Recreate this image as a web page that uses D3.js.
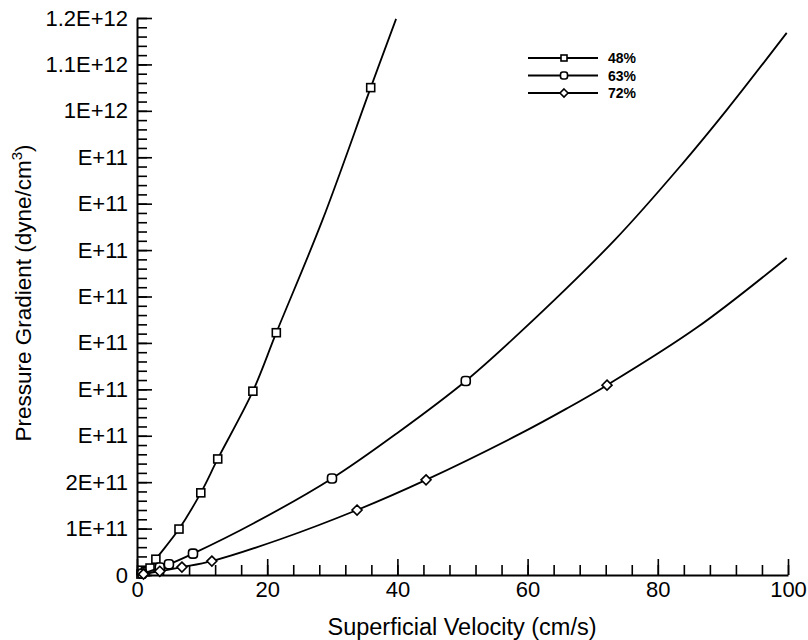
<!DOCTYPE html>
<html>
<head>
<meta charset="utf-8">
<script src="https://cdn.jsdelivr.net/npm/d3@7"></script>
<style>
  body { margin: 0; background: #fff; }
  text { font-family: "Liberation Sans", Arial, sans-serif; fill: #000; }
</style>
</head>
<body>
<div class="canvas"></div>
<script>
// velocity (cm/s) and pressure gradient (dyne/cm3)
var seriesNames = ['48%', '63%', '72%'];

var vel48 = [0.6, 1.3, 2.0, 2.9, 6.45, 9.8, 12.4, 17.8, 21.4, 35.9];
var dp48  = [0.02e11, 0.07e11, 0.15e11, 0.34e11, 0.99e11, 1.77e11, 2.50e11, 3.96e11, 5.22e11, 10.5e11];
var lineVel48 = [0, 0.6, 1.3, 2.0, 2.9, 6.45, 9.8, 12.4, 17.8, 21.4, 28.5, 35.9, 39.8];
var lineDp48  = [0, 0.02e11, 0.07e11, 0.15e11, 0.34e11, 0.99e11, 1.77e11, 2.50e11, 3.96e11, 5.22e11, 7.65e11, 10.5e11, 11.98e11];

var vel63 = [0.8, 3.5, 4.9, 8.6, 29.95, 50.5];
var dp63  = [0.03e11, 0.16e11, 0.23e11, 0.46e11, 2.08e11, 4.18e11];
var lineVel63 = [0, 0.8, 3.5, 4.9, 8.6, 18, 29.95, 40, 50.5, 58.8, 73.4, 83.9, 90.6, 99.8];
var lineDp63  = [0, 0.03e11, 0.16e11, 0.23e11, 0.46e11, 1.12e11, 2.08e11, 3.06e11, 4.18e11, 5.22e11, 7.22e11, 8.88e11, 10.02e11, 11.68e11];

var vel72 = [1.0, 3.5, 6.9, 11.5, 33.8, 44.4, 72.2];
var dp72  = [0.02e11, 0.08e11, 0.17e11, 0.30e11, 1.40e11, 2.05e11, 4.09e11];
var lineVel72 = [0, 1.0, 3.5, 6.9, 11.5, 22, 33.8, 44.4, 58.8, 66.05, 72.2, 86, 99.8];
var lineDp72  = [0, 0.02e11, 0.08e11, 0.17e11, 0.30e11, 0.77e11, 1.40e11, 2.05e11, 3.04e11, 3.59e11, 4.09e11, 5.33e11, 6.83e11];

var yTickValues = [0, 1e11, 2e11, 3e11, 4e11, 5e11, 6e11, 7e11, 8e11, 9e11, 10e11, 11e11, 12e11];
var yTickLabels = ['0', '1E+11', '2E+11', 'E+11', 'E+11', 'E+11', 'E+11', 'E+11', 'E+11', 'E+11', '1E+12', '1.1E+12', '1.2E+12'];
var xTickValues = [0, 20, 40, 60, 80, 100];

var width = 808, height = 640;

var svg = d3.select('.canvas')
  .append('svg')
    .attr('width', width)
    .attr('height', height);

var x = d3.scaleLinear().domain([0, 100]).range([137, 788]);
var y = d3.scaleLinear().domain([0, 1.2e12]).range([575, 18]);

// minor ticks
svg.append('g')
  .attr('transform', 'translate(137,0)')
  .call(d3.axisLeft(y).tickValues(d3.range(0, 1.2e12 + 1, 2e10)).tickSize(-10).tickSizeOuter(0).tickFormat(''))
  .call(function(g){ g.select('.domain').remove(); });

svg.append('g')
  .attr('transform', 'translate(0,575)')
  .call(d3.axisBottom(x).tickValues(d3.range(0, 101, 4)).tickSize(-10).tickSizeOuter(0).tickFormat(''))
  .call(function(g){ g.select('.domain').remove(); });

// major ticks + labels
svg.append('g')
  .attr('transform', 'translate(137,0)')
  .call(d3.axisLeft(y).tickValues(yTickValues).tickSize(-15).tickSizeOuter(0).tickPadding(9)
          .tickFormat(function(d, i){ return yTickLabels[i]; }));

svg.append('g')
  .attr('transform', 'translate(0,575)')
  .call(d3.axisBottom(x).tickValues(xTickValues).tickSize(-16).tickSizeOuter(0).tickPadding(6));

svg.selectAll('.tick line').attr('stroke', '#000').attr('stroke-width', 1.6);
svg.selectAll('.domain').attr('stroke', '#000').attr('stroke-width', 2);
svg.selectAll('.tick text').style('font-size', '22px').attr('fill', '#000');

// axis titles
svg.append('text')
  .attr('x', 462)
  .attr('y', 635)
  .attr('text-anchor', 'middle')
  .style('font-size', '23.5px')
  .text('Superficial Velocity (cm/s)');

var yTitle = svg.append('text')
  .attr('transform', 'translate(31,293) rotate(-90)')
  .attr('text-anchor', 'middle')
  .style('font-size', '22.5px');
yTitle.append('tspan').text('Pressure Gradient (dyne/cm');
yTitle.append('tspan').attr('dy', -9).style('font-size', '15px').text('3');
yTitle.append('tspan').attr('dy', 9).text(')');

// series
var series = [
  { name: seriesNames[0], lv: lineVel48, ld: lineDp48, mv: vel48, md: dp48, shape: 'square' },
  { name: seriesNames[1], lv: lineVel63, ld: lineDp63, mv: vel63, md: dp63, shape: 'circle' },
  { name: seriesNames[2], lv: lineVel72, ld: lineDp72, mv: vel72, md: dp72, shape: 'diamond' }
];

var line = d3.line()
  .x(function(d){ return x(d[0]); })
  .y(function(d){ return y(d[1]); })
  .curve(d3.curveCatmullRom.alpha(0.5));

function marker(g, shape, cx, cy, r) {
  if (shape === 'square') {
    g.append('rect').attr('x', cx - r).attr('y', cy - r).attr('width', 2 * r).attr('height', 2 * r);
  } else if (shape === 'circle') {
    g.append('rect').attr('x', cx - r - 0.5).attr('y', cy - r - 0.5).attr('width', 2 * r + 1).attr('height', 2 * r + 1).attr('rx', r * 0.8);
  } else {
    var d = r + 1;
    g.append('path').attr('d', 'M' + cx + ',' + (cy - d) + 'L' + (cx + d) + ',' + cy + 'L' + cx + ',' + (cy + d) + 'L' + (cx - d) + ',' + cy + 'Z');
  }
}

series.forEach(function(s){
  var pts = s.lv.map(function(v, i){ return [v, s.ld[i]]; });
  svg.append('path')
    .datum(pts)
    .attr('d', line)
    .attr('fill', 'none')
    .attr('stroke', '#000')
    .attr('stroke-width', 1.8);

  var mg = svg.append('g').attr('fill', '#fff').attr('stroke', '#000').attr('stroke-width', 1.6);
  s.mv.forEach(function(v, i){ marker(mg, s.shape, x(v), y(s.md[i]), 4); });
});

// legend
var legend = svg.append('g');
series.forEach(function(s, i){
  var ly = 58 + i * 17.5;
  legend.append('line')
    .attr('x1', 528).attr('x2', 598).attr('y1', ly).attr('y2', ly)
    .attr('stroke', '#000').attr('stroke-width', 1.8);
  var mg = legend.append('g').attr('fill', '#fff').attr('stroke', '#000').attr('stroke-width', 1.6);
  marker(mg, s.shape, 564, ly, 3);
  legend.append('text')
    .attr('x', 608).attr('y', ly + 5)
    .style('font-size', '14px').style('font-weight', 'bold')
    .text(s.name);
});
</script>
</body>
</html>
